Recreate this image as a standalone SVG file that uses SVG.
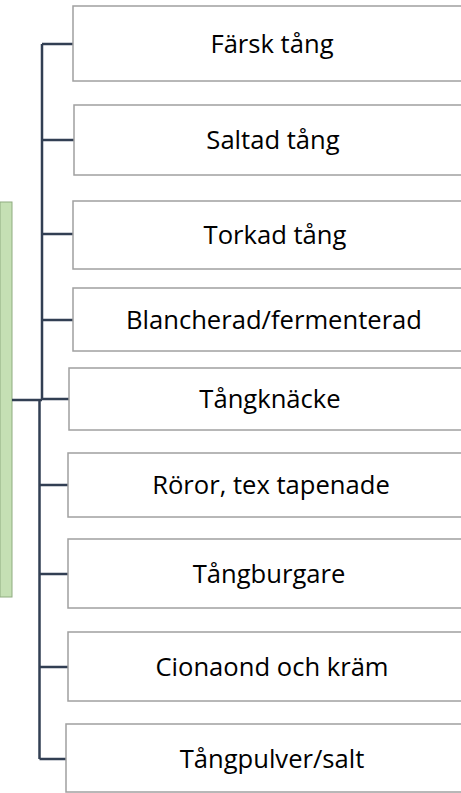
<svg xmlns="http://www.w3.org/2000/svg" width="461" height="793" viewBox="0 0 461 793">
<style>
.box{fill:#ffffff;stroke:#a0a0a0;stroke-width:1.5}
.lbl{font-family:"Open Sans","Liberation Sans",sans-serif;font-size:25.6px;fill:#000;text-anchor:middle}
.con{fill:none;stroke:#323f53;stroke-width:2.5}
</style>
<rect width="461" height="793" fill="#ffffff"/>
<g id="root"><rect x="0" y="202" width="12" height="395" fill="#c5e0b4" stroke="#8fac80" stroke-width="1"/></g>
<g id="connectors">
<path class="con" d="M12 400H42M42 44V400M39.5 400V759"/>
<path class="con" d="M42 44H73M42 140H74M42 234H73M42 320H73M42 399H69M39.5 485H68M39.5 574H68M39.5 667H68M39.5 759H66"/>
</g>
<g id="n1"><rect class="box" x="73" y="6" width="400" height="75"/><text class="lbl" x="272" y="53">Färsk tång</text></g>
<g id="n2"><rect class="box" x="74" y="105" width="400" height="70"/><text class="lbl" x="273" y="149">Saltad tång</text></g>
<g id="n3"><rect class="box" x="73" y="201" width="400" height="68"/><text class="lbl" x="275" y="244">Torkad tång</text></g>
<g id="n4"><rect class="box" x="73" y="288" width="400" height="63"/><text class="lbl" x="274" y="329">Blancherad/fermenterad</text></g>
<g id="n5"><rect class="box" x="69" y="368" width="400" height="62"/><text class="lbl" x="270" y="408">Tångknäcke</text></g>
<g id="n6"><rect class="box" x="68" y="453" width="400" height="64"/><text class="lbl" x="271" y="494">Röror, tex tapenade</text></g>
<g id="n7"><rect class="box" x="68" y="539" width="400" height="69"/><text class="lbl" x="269" y="583">Tångburgare</text></g>
<g id="n8"><rect class="box" x="68" y="632" width="400" height="69"/><text class="lbl" x="272" y="676">Cionaond och kräm</text></g>
<g id="n9"><rect class="box" x="66" y="724" width="400" height="68"/><text class="lbl" x="272" y="768">Tångpulver/salt</text></g>
</svg>
